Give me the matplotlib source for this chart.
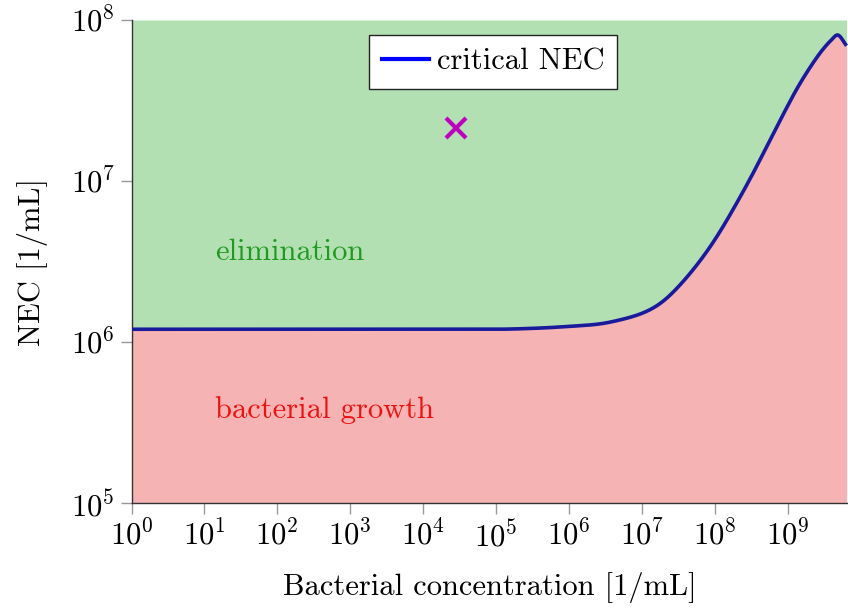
import numpy as np
import matplotlib
matplotlib.use("Agg")
import matplotlib.pyplot as plt
from matplotlib.lines import Line2D

plt.rcParams["font.family"] = "serif"
plt.rcParams["font.serif"] = ["cmr10", "DejaVu Serif"]
plt.rcParams["mathtext.fontset"] = "cm"
plt.rcParams["axes.formatter.use_mathtext"] = True

# critical NEC curve (bacterial concentration vs NEC)
bact_conc = [1e0, 1e2, 1e4, 1e5, 4.0e5, 1.0e6, 2.6e6, 5.0e6, 9.3e6, 1.76e7,
             3.31e7, 6.17e7, 1.0e8, 1.78e8, 3.31e8, 5.13e8, 7.76e8, 1.07e9,
             1.26e9, 2.0e9, 3.02e9, 3.98e9, 4.84e9, 6.46e9]
nec_crit = [1.2e6, 1.2e6, 1.2e6, 1.2e6, 1.22e6, 1.25e6, 1.29e6, 1.37e6, 1.48e6, 1.71e6,
            2.24e6, 3.14e6, 4.27e6, 6.61e6, 1.10e7, 1.62e7, 2.34e7, 3.09e7,
            3.55e7, 5.01e7, 6.53e7, 7.50e7, 8.07e7, 6.92e7]

# single observation
obs_conc = [2.8e4]
obs_nec = [2.14e7]

x_min, x_max = 1e0, 10 ** 9.83
y_min, y_max = 1e5, 1e8
x_ticks = [10 ** k for k in range(0, 10)]
y_ticks = [10 ** k for k in range(5, 9)]


def pchip(x, y, xn):
    """Monotone piecewise cubic Hermite interpolation."""
    x = np.asarray(x, float)
    y = np.asarray(y, float)
    h = np.diff(x)
    d = np.diff(y) / h
    m = np.zeros_like(y)
    for i in range(1, len(y) - 1):
        if d[i - 1] * d[i] > 0:
            w1 = 2 * h[i] + h[i - 1]
            w2 = h[i] + 2 * h[i - 1]
            m[i] = (w1 + w2) / (w1 / d[i - 1] + w2 / d[i])
    m[0] = d[0]
    m[-1] = d[-1]
    idx = np.clip(np.searchsorted(x, xn) - 1, 0, len(h) - 1)
    t = (xn - x[idx]) / h[idx]
    h00 = 2 * t**3 - 3 * t**2 + 1
    h10 = t**3 - 2 * t**2 + t
    h01 = -2 * t**3 + 3 * t**2
    h11 = t**3 - t**2
    return (h00 * y[idx] + h10 * h[idx] * m[idx]
            + h01 * y[idx + 1] + h11 * h[idx] * m[idx + 1])


def box_smooth(v, k):
    pad = np.pad(v, k, mode="edge")
    return np.convolve(pad, np.ones(2 * k + 1) / (2 * k + 1), mode="same")[k:-k]


lx = np.log10(bact_conc)
ly = np.log10(nec_crit)
xs = np.linspace(lx[0], lx[-1], 2000)
ys = pchip(lx, ly, xs)
# smoothing: wider on the gentle bend, narrow near the tip of the peak
step = xs[1] - xs[0]
wide = box_smooth(box_smooth(ys, int(0.12 / step)), int(0.12 / step))
narrow = box_smooth(ys, int(0.05 / step))
a = np.clip((8.6 - xs) / 0.4, 0, 1)
sm = a * wide + (1 - a) * narrow
w = np.clip((9.62 - xs) / 0.1, 0, 1)
ys = w * sm + (1 - w) * ys
X = 10 ** xs
Y = 10 ** ys

fig = plt.figure(figsize=(8.48, 6.08), dpi=100)
ax = fig.add_axes([131.5 / 848, 1 - 503 / 608, 1 - 131.5 / 848, (503 - 20) / 608])
ax.set_xscale("log")
ax.set_yscale("log")
ax.set_xlim(x_min, x_max)
ax.set_ylim(y_min, y_max)

ax.fill_between(X, Y, y_max, color="#b3e0b3", lw=0, zorder=1)
ax.fill_between(X, y_min, Y, color="#f6b3b3", lw=0, zorder=1)
ax.plot(X, Y, color="#1a1a9c", lw=2.6, zorder=3, solid_capstyle="butt")

ax.plot(obs_conc, obs_nec, ls="none", marker="x", ms=14, mew=3,
        color="#bf00bf", zorder=4)

ax.text(14, 3.6e6, "elimination", color="#1f9a1f", fontsize=22,
        ha="left", va="center")
ax.text(14, 3.8e5, "bacterial growth", color="#ee1111", fontsize=22,
        ha="left", va="center")

handle = Line2D([0], [0], color="#0000ff", lw=3)
leg = ax.legend([handle], ["critical NEC"], loc="upper center",
                bbox_to_anchor=(0.505, 0.968),
                fontsize=22, frameon=True, fancybox=False, framealpha=1.0,
                facecolor="white", handlelength=1.55,
                handletextpad=0.25, borderpad=0.42, borderaxespad=0.0)
leg.get_frame().set_edgecolor("#222222")
leg.get_frame().set_linewidth(1.0)

ax.set_xticks(x_ticks)
ax.set_yticks(y_ticks)
ax.xaxis.set_minor_locator(matplotlib.ticker.NullLocator())
ax.yaxis.set_minor_locator(matplotlib.ticker.NullLocator())
ax.tick_params(axis="both", which="major", labelsize=22, direction="out",
               length=8, width=1.0, color="#999999", pad=4)
for s in ["top", "right"]:
    ax.spines[s].set_visible(False)
for s in ["left", "bottom"]:
    ax.spines[s].set_color("#333333")
    ax.spines[s].set_linewidth(1.0)

ax.set_xlabel("Bacterial concentration [1/mL]", fontsize=22, labelpad=14)
ax.set_ylabel("NEC [1/mL]", fontsize=22, labelpad=16)

fig.savefig("out.png", dpi=100)
